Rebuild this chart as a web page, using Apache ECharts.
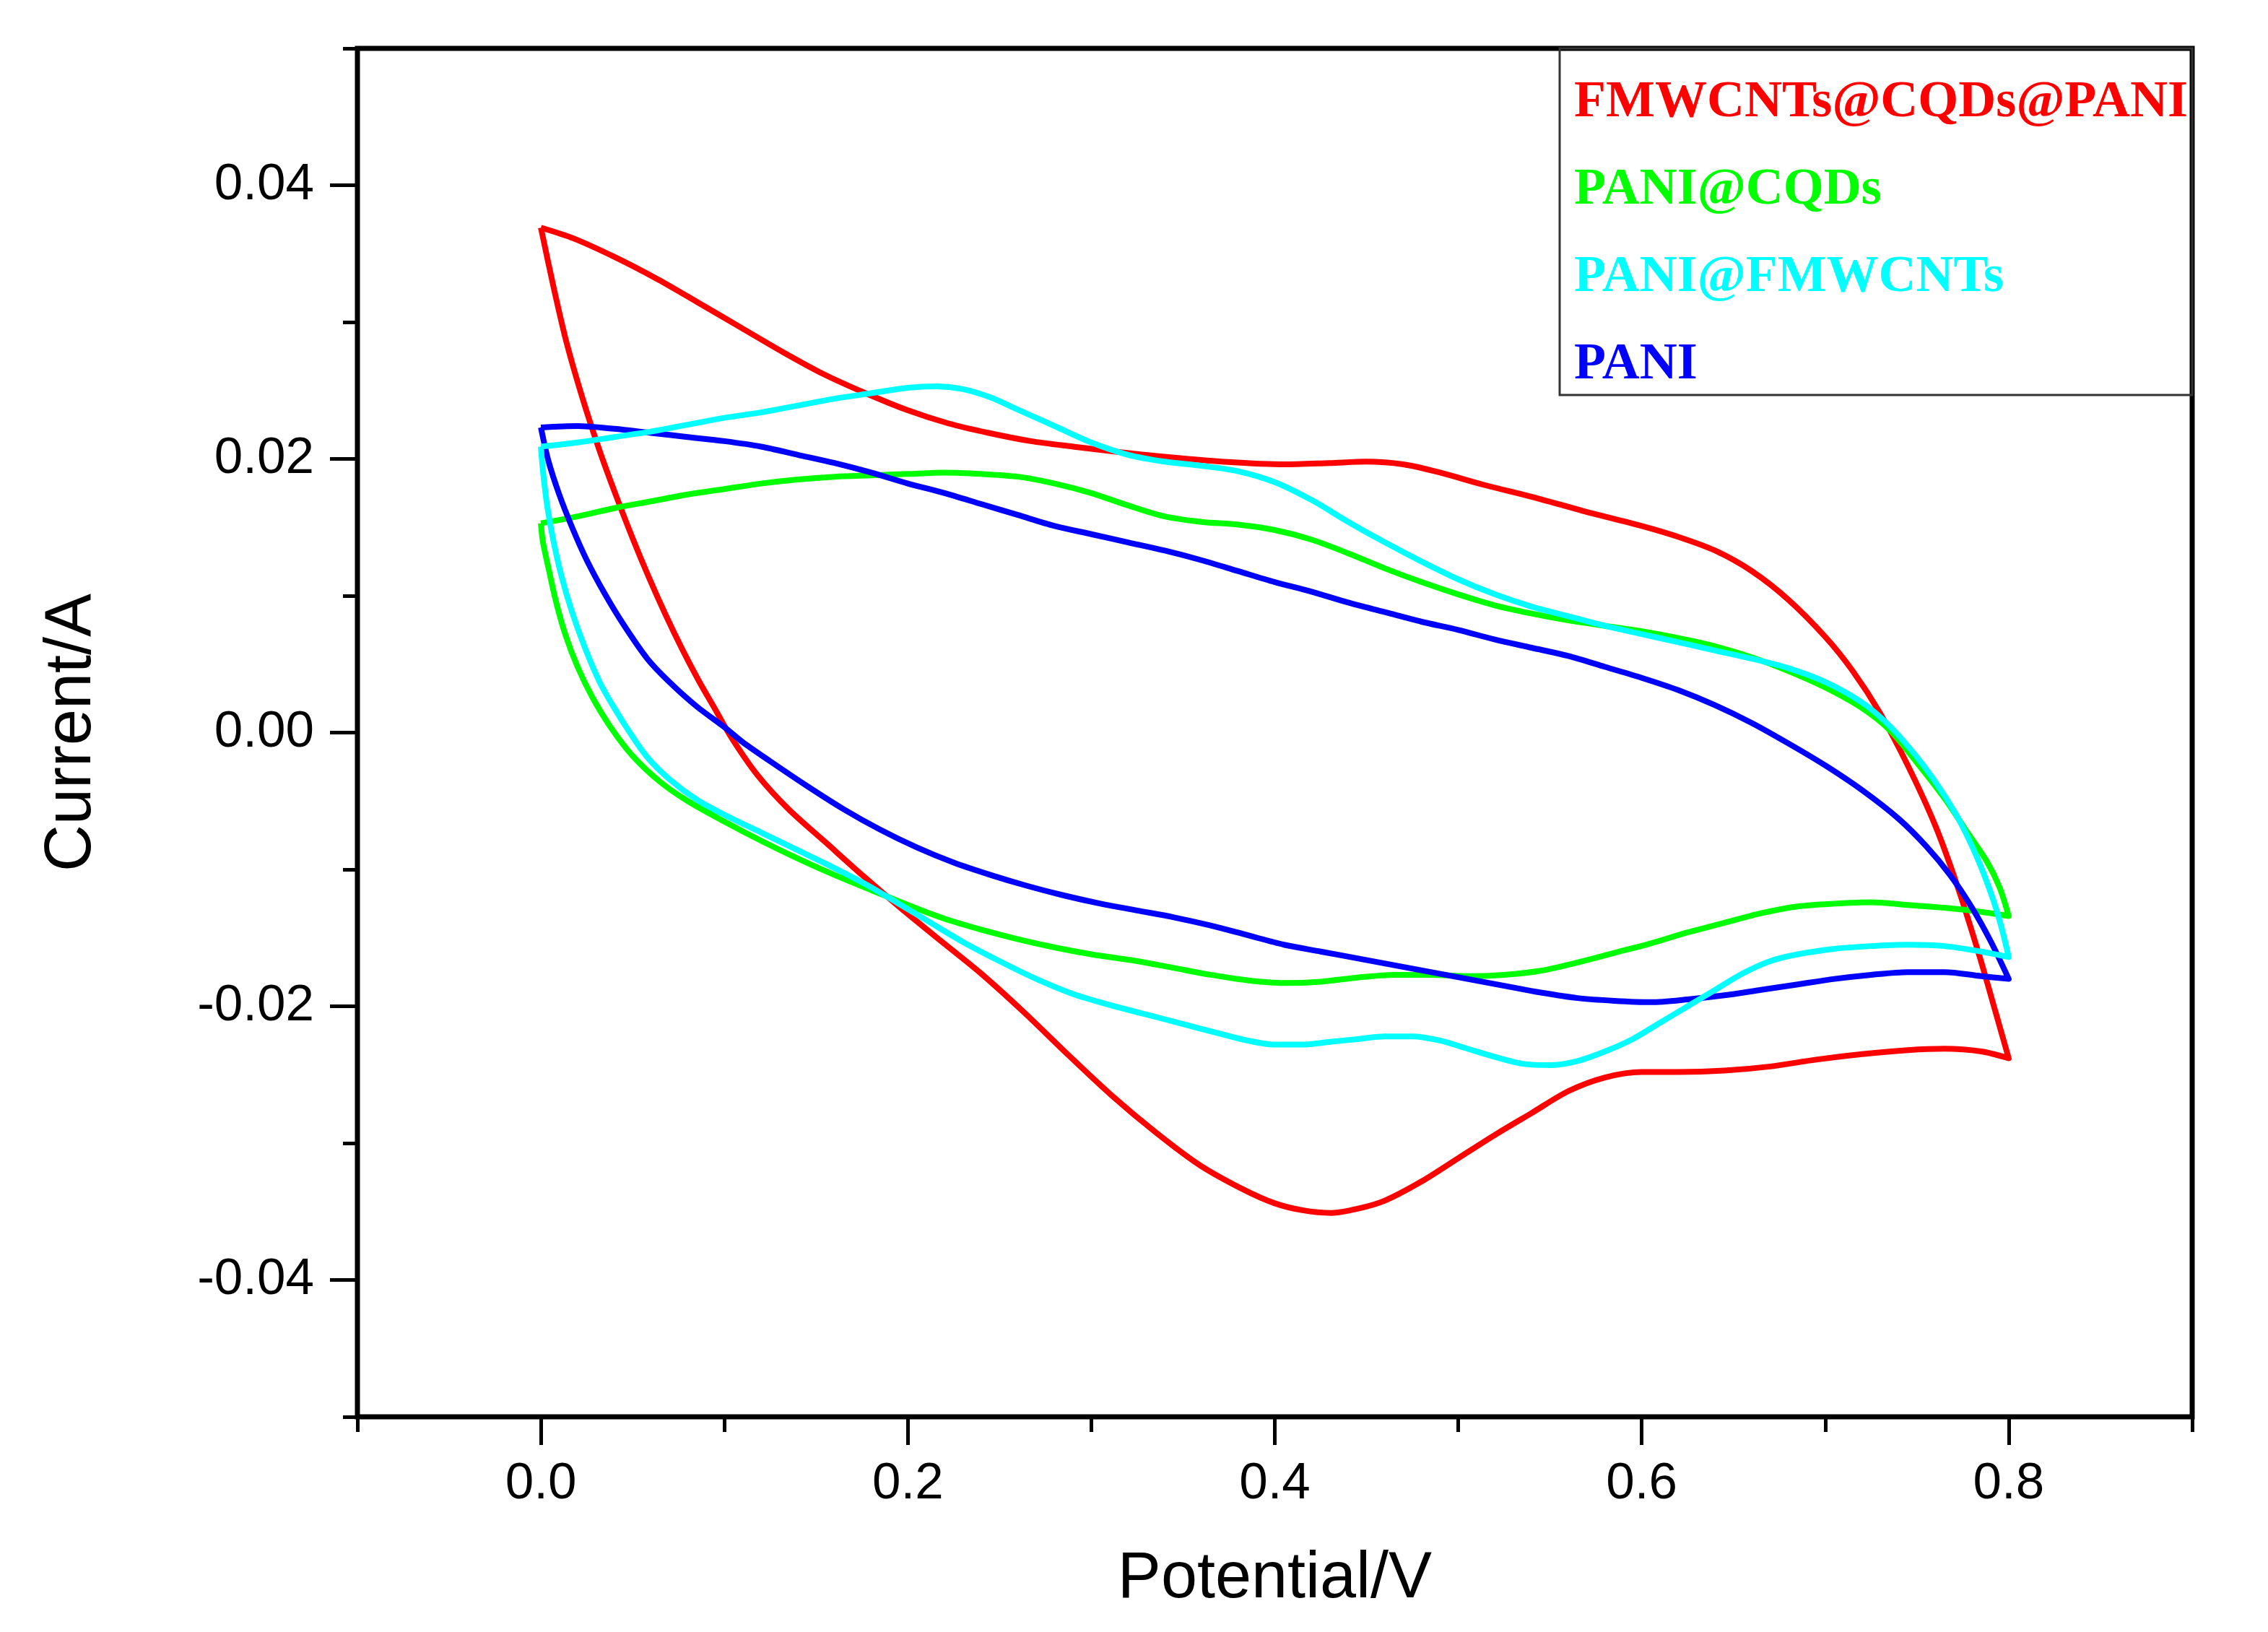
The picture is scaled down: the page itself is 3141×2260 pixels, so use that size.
<!DOCTYPE html>
<html>
<head>
<meta charset="utf-8">
<title>CV curves</title>
<script src="https://cdn.jsdelivr.net/npm/echarts@6/dist/echarts.min.js"></script>
<style>
  html, body { margin: 0; padding: 0; background: #fff; }
  #main { width: 3141px; height: 2260px; }
</style>
</head>
<body>
<div id="main"></div>
<script>
// series names and colours, in legend order
var seriesNames = ['FMWCNTs@CQDs@PANI', 'PANI@CQDs', 'PANI@FMWCNTs', 'PANI'];
var seriesColors = ['#ff0000', '#00ff00', '#00ffff', '#0000ff'];

// tick values
var xMajorTicks = [0, 0.2, 0.4, 0.6, 0.8];
var xMinorTicks = [-0.1, 0.1, 0.3, 0.5, 0.7, 0.9];
var yMajorTicks = [-0.04, -0.02, 0, 0.02, 0.04];
var yMinorTicks = [-0.05, -0.03, -0.01, 0.01, 0.03, 0.05];

// [potential V, current A]; each loop: forward scan 0 -> 0.8, then back to 0
var redLoop = [
    [0, 0.0369], [0.018, 0.0361], [0.041, 0.0347], [0.064, 0.0331], [0.086, 0.0314], [0.109, 0.0296],
    [0.132, 0.0278], [0.154, 0.0262], [0.177, 0.0248], [0.199, 0.0236], [0.222, 0.0226], [0.244, 0.0219],
    [0.267, 0.0213], [0.290, 0.0209], [0.315, 0.0205], [0.344, 0.0201], [0.371, 0.0198], [0.405, 0.0196],
    [0.430, 0.0197], [0.450, 0.0198], [0.470, 0.0196], [0.490, 0.0190], [0.514, 0.0181], [0.541, 0.0172],
    [0.568, 0.0162], [0.600, 0.0151], [0.620, 0.0143], [0.640, 0.0133], [0.660, 0.0118], [0.680, 0.0097],
    [0.700, 0.0070], [0.715, 0.0045], [0.730, 0.0014], [0.745, -0.0024], [0.760, -0.0068], [0.772, -0.0112],
    [0.784, -0.0163], [0.793, -0.0205], [0.800, -0.0238],
    [0.785, -0.0233], [0.765, -0.0231], [0.745, -0.0232], [0.720, -0.0235], [0.695, -0.0239], [0.670, -0.0244],
    [0.645, -0.0247], [0.620, -0.0248], [0.600, -0.0248], [0.580, -0.0252], [0.560, -0.0262], [0.540, -0.0278],
    [0.520, -0.0294], [0.500, -0.0311], [0.480, -0.0328], [0.460, -0.0342], [0.445, -0.0348], [0.431, -0.0351],
    [0.415, -0.0349], [0.400, -0.0344], [0.383, -0.0334], [0.359, -0.0316], [0.335, -0.0292], [0.311, -0.0265],
    [0.287, -0.0235], [0.263, -0.0204], [0.239, -0.0175], [0.215, -0.0149], [0.195, -0.0127], [0.175, -0.0104],
    [0.155, -0.0080], [0.135, -0.0056], [0.118, -0.0031], [0.104, -0.0004], [0.095, 0.0017], [0.086, 0.0038],
    [0.077, 0.0061], [0.068, 0.0086], [0.059, 0.0113], [0.050, 0.0142], [0.041, 0.0173], [0.032, 0.0206],
    [0.023, 0.0243], [0.014, 0.0285], [0.007, 0.0325], [0, 0.0369]
];
var greenLoop = [
    [0, 0.0153], [0.02, 0.0158], [0.04, 0.0164], [0.06, 0.0169], [0.08, 0.0174], [0.10, 0.0178],
    [0.12, 0.0182], [0.14, 0.0185], [0.16, 0.0187], [0.18, 0.0188], [0.20, 0.0189], [0.22, 0.0190],
    [0.24, 0.0189], [0.26, 0.0187], [0.28, 0.0182], [0.30, 0.0175], [0.32, 0.0166], [0.34, 0.0158],
    [0.36, 0.0154], [0.38, 0.0152], [0.40, 0.0148], [0.42, 0.0141], [0.44, 0.0131], [0.46, 0.0120],
    [0.48, 0.0110], [0.50, 0.0101], [0.52, 0.0093], [0.54, 0.0087], [0.56, 0.0082], [0.58, 0.0078],
    [0.60, 0.0074], [0.62, 0.0069], [0.64, 0.0063], [0.66, 0.0055], [0.68, 0.0045], [0.70, 0.0033],
    [0.72, 0.0018], [0.735, 0.0002], [0.75, -0.0022], [0.765, -0.0048], [0.778, -0.0074], [0.788, -0.0094],
    [0.795, -0.0113], [0.800, -0.0134],
    [0.785, -0.0131], [0.765, -0.0128], [0.745, -0.0126], [0.725, -0.0124], [0.705, -0.0125], [0.685, -0.0127],
    [0.665, -0.0132], [0.645, -0.0139], [0.625, -0.0146], [0.605, -0.0154], [0.585, -0.0161], [0.565, -0.0168],
    [0.545, -0.0174], [0.525, -0.0177], [0.505, -0.0178], [0.485, -0.0177], [0.465, -0.0177], [0.445, -0.0179],
    [0.425, -0.0182], [0.405, -0.0183], [0.385, -0.0181], [0.365, -0.0177], [0.345, -0.0172], [0.325, -0.0167],
    [0.300, -0.0162], [0.280, -0.0157], [0.260, -0.0151], [0.240, -0.0144], [0.220, -0.0136], [0.200, -0.0126],
    [0.180, -0.0115], [0.160, -0.0104], [0.140, -0.0092], [0.120, -0.0079], [0.100, -0.0065], [0.080, -0.0050],
    [0.065, -0.0036], [0.050, -0.0017], [0.038, 0.0004], [0.028, 0.0026], [0.020, 0.0048], [0.013, 0.0073],
    [0.008, 0.0097], [0.004, 0.0121], [0.001, 0.0140], [0, 0.0153]
];
var cyanLoop = [
    [0, 0.0209], [0.02, 0.0212], [0.04, 0.0216], [0.06, 0.0220], [0.08, 0.0225], [0.10, 0.0230],
    [0.12, 0.0234], [0.14, 0.0239], [0.16, 0.0244], [0.18, 0.0248], [0.20, 0.0252], [0.215, 0.0253],
    [0.23, 0.0251], [0.245, 0.0245], [0.26, 0.0236], [0.28, 0.0224], [0.30, 0.0212], [0.32, 0.0203],
    [0.34, 0.0198], [0.36, 0.0195], [0.38, 0.0191], [0.40, 0.0183], [0.42, 0.0170], [0.44, 0.0154],
    [0.46, 0.0139], [0.48, 0.0125], [0.50, 0.0112], [0.52, 0.0101], [0.54, 0.0092], [0.56, 0.0085],
    [0.58, 0.0078], [0.60, 0.0072], [0.62, 0.0066], [0.64, 0.0060], [0.66, 0.0054], [0.68, 0.0047],
    [0.70, 0.0037], [0.72, 0.0022], [0.735, 0.0005], [0.75, -0.0018], [0.762, -0.0040], [0.773, -0.0064],
    [0.783, -0.0092], [0.791, -0.0120], [0.796, -0.0142], [0.800, -0.0164],
    [0.785, -0.0160], [0.765, -0.0156], [0.745, -0.0155], [0.725, -0.0156], [0.705, -0.0158], [0.685, -0.0162],
    [0.670, -0.0167], [0.655, -0.0176], [0.640, -0.0188], [0.625, -0.0200], [0.610, -0.0212], [0.595, -0.0224],
    [0.580, -0.0233], [0.565, -0.0240], [0.550, -0.0243], [0.535, -0.0242], [0.520, -0.0237], [0.505, -0.0231],
    [0.490, -0.0225], [0.475, -0.0222], [0.460, -0.0222], [0.445, -0.0224], [0.430, -0.0226], [0.415, -0.0228],
    [0.400, -0.0228], [0.385, -0.0225], [0.370, -0.0220], [0.350, -0.0213], [0.330, -0.0206], [0.310, -0.0199],
    [0.290, -0.0191], [0.270, -0.0180], [0.250, -0.0167], [0.230, -0.0153], [0.210, -0.0137], [0.195, -0.0125],
    [0.180, -0.0113], [0.160, -0.0099], [0.140, -0.0086], [0.120, -0.0073], [0.100, -0.0060], [0.085, -0.0049],
    [0.070, -0.0034], [0.058, -0.0018], [0.048, 0.0001], [0.040, 0.0018], [0.032, 0.0037], [0.024, 0.0062],
    [0.017, 0.0088], [0.0115, 0.0113], [0.007, 0.0139], [0.0035, 0.0165], [0.0012, 0.0190], [0, 0.0209]
];
var blueLoop = [
    [0, 0.0223], [0.02, 0.0224], [0.04, 0.0222], [0.06, 0.0219], [0.08, 0.0216], [0.10, 0.0213],
    [0.12, 0.0209], [0.14, 0.0203], [0.16, 0.0197], [0.18, 0.0190], [0.20, 0.0182], [0.22, 0.0175],
    [0.24, 0.0167], [0.26, 0.0159], [0.28, 0.0151], [0.30, 0.0145], [0.32, 0.0139], [0.34, 0.0133],
    [0.36, 0.0126], [0.38, 0.0118], [0.40, 0.0110], [0.42, 0.0103], [0.44, 0.0095], [0.46, 0.0088],
    [0.48, 0.0081], [0.50, 0.0075], [0.52, 0.0068], [0.54, 0.0062], [0.56, 0.0056], [0.58, 0.0048],
    [0.60, 0.0040], [0.62, 0.0031], [0.64, 0.0020], [0.66, 0.0007], [0.68, -0.0008], [0.70, -0.0024],
    [0.72, -0.0042], [0.74, -0.0063], [0.755, -0.0083], [0.768, -0.0104], [0.780, -0.0128], [0.790, -0.0152],
    [0.800, -0.0180],
    [0.785, -0.0178], [0.765, -0.0175], [0.745, -0.0175], [0.725, -0.0177], [0.705, -0.0180], [0.685, -0.0184],
    [0.665, -0.0188], [0.645, -0.0192], [0.625, -0.0195], [0.605, -0.0197], [0.585, -0.0196], [0.565, -0.0194],
    [0.545, -0.0190], [0.525, -0.0185], [0.505, -0.0180], [0.485, -0.0175], [0.465, -0.0170], [0.445, -0.0165],
    [0.425, -0.0160], [0.405, -0.0155], [0.385, -0.0148], [0.365, -0.0141], [0.345, -0.0135], [0.325, -0.0130],
    [0.305, -0.0125], [0.285, -0.0119], [0.265, -0.0112], [0.245, -0.0104], [0.225, -0.0095], [0.205, -0.0084],
    [0.185, -0.0071], [0.165, -0.0056], [0.145, -0.0039], [0.125, -0.0021], [0.110, -0.0007], [0.100, 0.0004],
    [0.085, 0.0019], [0.070, 0.0037], [0.058, 0.0054], [0.045, 0.0079], [0.035, 0.0101], [0.025, 0.0126],
    [0.017, 0.0150], [0.010, 0.0174], [0.004, 0.0199], [0, 0.0223]
];

var loops = [redLoop, greenLoop, cyanLoop, blueLoop];
// drawing order (later on top)
var drawOrder = [0, 1, 3, 2];

var sansFont = "'Liberation Sans', Arial, sans-serif";
var serifFont = "'Liberation Serif', 'Times New Roman', serif";

function makeSeries(i) {
    return {
        name: seriesNames[i],
        type: 'line',
        xAxisIndex: 0,
        yAxisIndex: 0,
        data: loops[i],
        showSymbol: false,
        symbol: 'none',
        smooth: 0.3,
        color: seriesColors[i],
        lineStyle: { width: 8, color: seriesColors[i], join: 'round' },
        z: 3
    };
}

function tickAxis(ticks, len) {
    return {
        show: true,
        customValues: ticks,
        length: len,
        lineStyle: { color: '#000', width: 5 }
    };
}

var myChart = echarts.init(document.getElementById('main'), null, { renderer: 'canvas' });
var option = {
    backgroundColor: '#ffffff',
    animation: false,
    grid: {
        left: 495,
        right: 105,
        top: 67,
        bottom: 298,
        show: true,
        borderColor: '#000',
        borderWidth: 7,
        backgroundColor: 'transparent'
    },
    legend: {
        orient: 'vertical',
        right: 105,
        top: 67,
        icon: 'none',
        itemWidth: 0,
        itemHeight: 0,
        itemGap: 41,
        padding: [35, 6, 2, 15],
        borderColor: '#333',
        borderWidth: 3,
        selectedMode: false,
        textStyle: {
            fontFamily: serifFont,
            fontWeight: 'bold',
            fontSize: 72,
            lineHeight: 80
        },
        data: seriesNames.map(function (n, i) {
            return { name: n, textStyle: { color: seriesColors[i] } };
        })
    },
    xAxis: [
        {
            type: 'value',
            position: 'bottom',
            min: -0.1,
            max: 0.9,
            name: 'Potential/V',
            nameLocation: 'middle',
            nameGap: 180,
            nameTextStyle: { fontFamily: sansFont, fontSize: 90, color: '#000' },
            axisLine: { show: false, onZero: false },
            splitLine: { show: false },
            axisTick: tickAxis(xMajorTicks, 39),
            axisLabel: {
                customValues: xMajorTicks,
                margin: 58,
                fontFamily: sansFont,
                fontSize: 71,
                color: '#000',
                formatter: function (v) { return v.toFixed(1); }
            }
        },
        {
            type: 'value',
            position: 'bottom',
            min: -0.1,
            max: 0.9,
            axisLine: { show: false, onZero: false },
            splitLine: { show: false },
            axisTick: tickAxis(xMinorTicks, 21),
            axisLabel: { show: false }
        }
    ],
    yAxis: [
        {
            type: 'value',
            position: 'left',
            min: -0.05,
            max: 0.05,
            name: 'Current/A',
            nameLocation: 'middle',
            nameGap: 350,
            nameTextStyle: { fontFamily: sansFont, fontSize: 90, color: '#000' },
            axisLine: { show: false, onZero: false },
            splitLine: { show: false },
            axisTick: tickAxis(yMajorTicks, 38),
            axisLabel: {
                customValues: yMajorTicks,
                margin: 60,
                fontFamily: sansFont,
                fontSize: 71,
                color: '#000',
                formatter: function (v) { return v.toFixed(2); }
            }
        },
        {
            type: 'value',
            position: 'left',
            min: -0.05,
            max: 0.05,
            axisLine: { show: false, onZero: false },
            splitLine: { show: false },
            axisTick: tickAxis(yMinorTicks, 20),
            axisLabel: { show: false }
        }
    ],
    series: drawOrder.map(makeSeries)
};
myChart.setOption(option);
</script>
</body>
</html>
